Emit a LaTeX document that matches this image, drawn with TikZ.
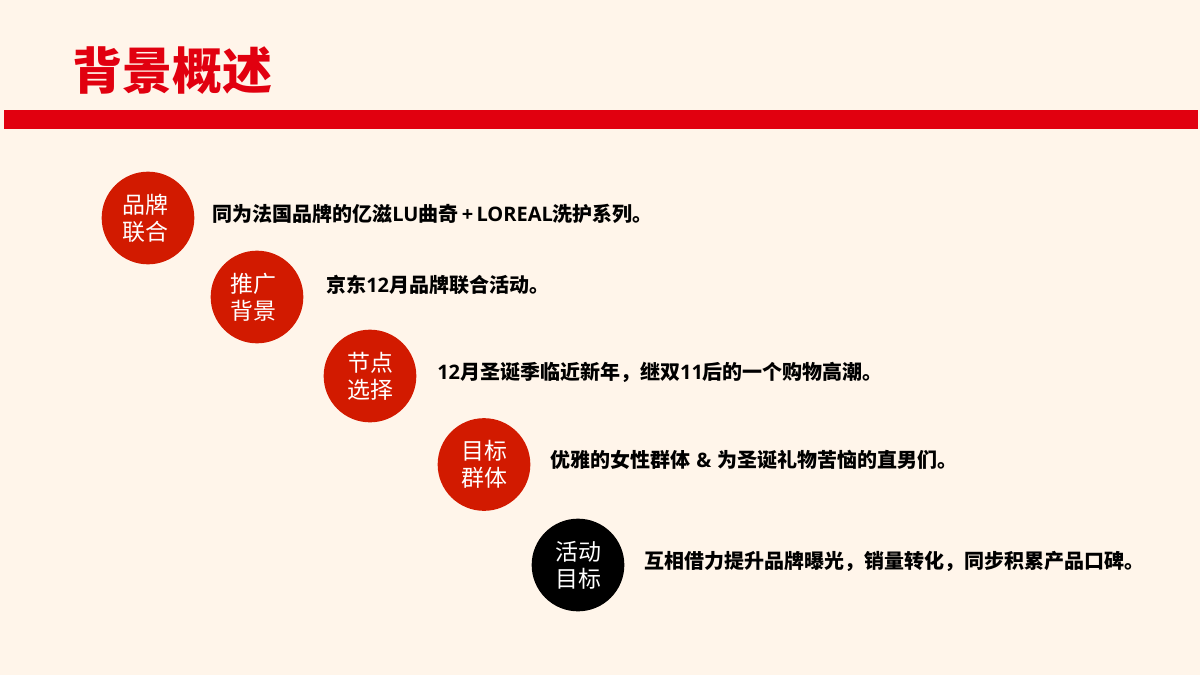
\documentclass[tikz,border=0pt]{standalone}
\usepackage{fontspec}
\setmainfont{Noto Sans CJK SC}
\newfontfamily\latinface{Open Sans}
\newcommand{\lat}[1]{{\latinface #1}}
\definecolor{paper}{HTML}{FFF5EA}
\definecolor{barred}{HTML}{E1000F}
\definecolor{dotred}{HTML}{D21A00}
\tikzset{
  dotlabel/.style={inner sep=0pt,text=white,align=center,
    font=\fontsize{17.2}{20.3}\selectfont},
  reddot/.style={circle,minimum size=69.5pt,inner sep=0pt,fill=dotred},
  blackdot/.style={circle,minimum size=69.5pt,inner sep=0pt,fill=black},
  linetext/.style={anchor=west,inner sep=0pt,text=black,font=\fontsize{15}{18}\selectfont\bfseries}
}
\begin{document}
\begin{tikzpicture}[x=0.75pt,y=-0.75pt]
  \useasboundingbox (0,0) rectangle (1200,675);
  \fill[paper] (0,0) rectangle (1200,675);
  \fill[barred] (4,110) rectangle (1198,129);
  \draw (72.5,71) node (title) [anchor=west,inner sep=0pt,text=barred]{\fontsize{37.5}{40}\selectfont\bfseries 背景概述};
  \draw (148,218) node (brand) [reddot]{};
  \draw (257,297) node (promo) [reddot]{};
  \draw (370,376) node (timing) [reddot]{};
  \draw (484,464.5) node (group) [reddot]{};
  \draw (578,565) node (goal) [blackdot]{};
  \draw (145.5,218.5) node (brandlabel) [dotlabel]{品牌\\联合};
  \draw (253,297.5) node (promolabel) [dotlabel]{推广\\背景};
  \draw (370,376) node (timinglabel) [dotlabel]{节点\\选择};
  \draw (484,464.5) node (grouplabel) [dotlabel]{目标\\群体};
  \draw (578,565.5) node (goallabel) [dotlabel]{活动\\目标};
  \draw (212,214) node (brandtext) [linetext]{同为法国品牌的亿滋\lat{LU}曲奇\,\lat{+}\,\lat{LOREAL}洗护系列。};
  \draw (326,285) node (promotext) [linetext]{京东\lat{12}月品牌联合活动。};
  \draw (437,372) node (timingtext) [linetext]{\lat{12}月圣诞季临近新年，继双\lat{11}后的一个购物高潮。};
  \draw (550,460) node (grouptext) [linetext]{优雅的女性群体\hspace{4.5pt}\lat{\&}\hspace{4.5pt}为圣诞礼物苦恼的直男们。};
  \draw (644,561) node (goaltext) [linetext]{互相借力提升品牌曝光，销量转化，同步积累产品口碑。};
\end{tikzpicture}
\end{document}
